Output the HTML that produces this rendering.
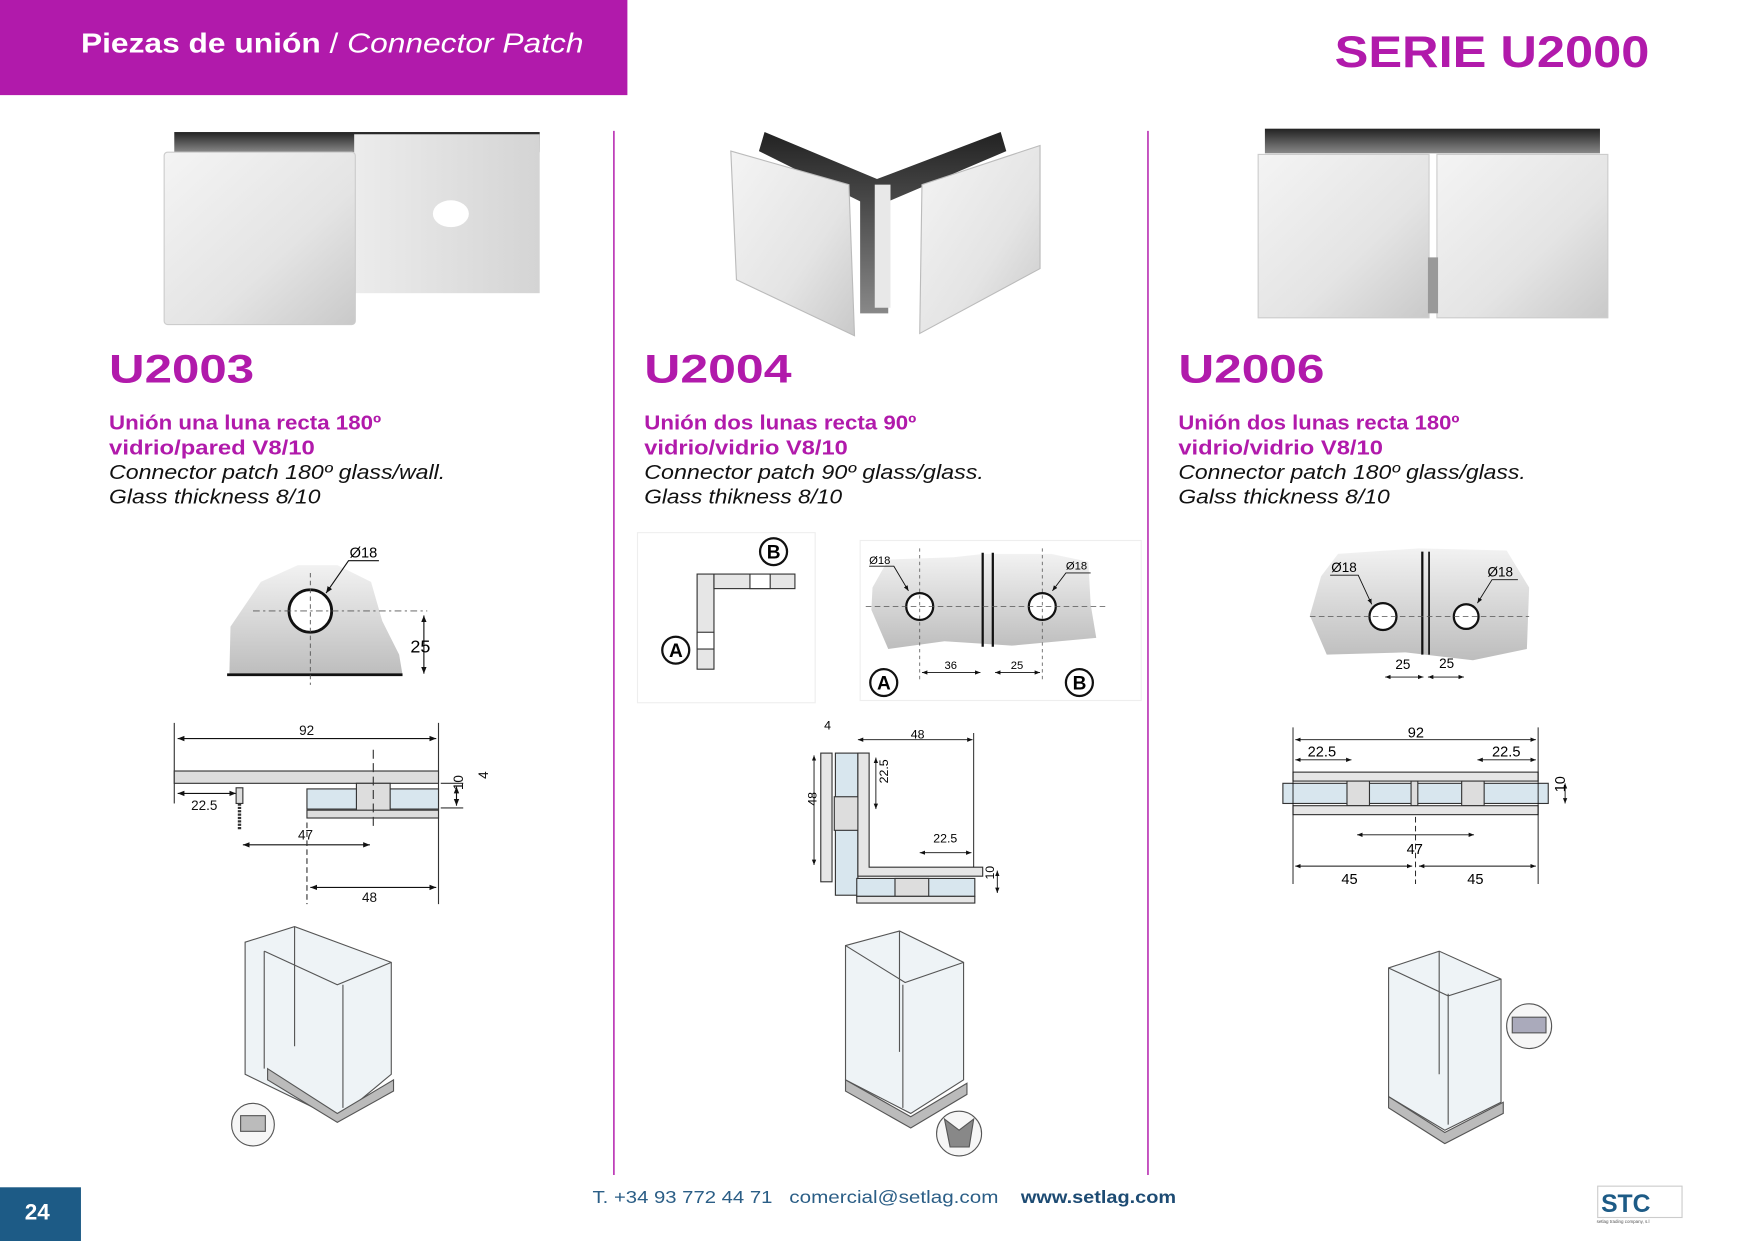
<!DOCTYPE html>
<html><head><meta charset="utf-8">
<style>
html,body{margin:0;padding:0;background:#fff;}
svg{display:block;}
text{font-family:"Liberation Sans",Arial,sans-serif;}
</style></head>
<body>
<svg width="1754" height="1241" viewBox="0 0 1560 1109" preserveAspectRatio="none" xmlns="http://www.w3.org/2000/svg">
<defs>
<linearGradient id="met" x1="0" y1="0" x2="1" y2="1"><stop offset="0" stop-color="#f4f4f4"/><stop offset="0.6" stop-color="#e4e4e4"/><stop offset="1" stop-color="#c9c9c9"/></linearGradient>
<linearGradient id="met2" x1="0" y1="0" x2="1" y2="0"><stop offset="0" stop-color="#ececec"/><stop offset="1" stop-color="#d4d4d4"/></linearGradient>
<linearGradient id="dark" x1="0" y1="0" x2="0" y2="1"><stop offset="0" stop-color="#222"/><stop offset="1" stop-color="#888"/></linearGradient>
<linearGradient id="pl" x1="0" y1="0" x2="0" y2="1"><stop offset="0" stop-color="#f2f2f2"/><stop offset="1" stop-color="#bdbdbd"/></linearGradient>
<marker id="ar" viewBox="0 0 10 10" refX="10" refY="5" markerWidth="6" markerHeight="6" orient="auto-start-reverse"><path d="M0,1 L10,5 L0,9 z" fill="#111"/></marker>
</defs>
<rect width="1560" height="1109" fill="#fff"/>
<!-- header -->
<rect x="0" y="0" width="558" height="85" fill="#b11aab"/>
<text x="72" y="47" font-size="25" fill="#fff" font-weight="bold" textLength="447" lengthAdjust="spacingAndGlyphs">Piezas de unión <tspan font-weight="normal"> / </tspan><tspan font-weight="normal" font-style="italic">Connector Patch</tspan></text>
<text x="1187" y="60" font-size="40" fill="#b11aab" font-weight="bold" textLength="280" lengthAdjust="spacingAndGlyphs">SERIE U2000</text>
<!-- dividers -->
<line x1="546" y1="117" x2="546" y2="1050" stroke="#b11aab" stroke-width="1.3"/>
<line x1="1021" y1="117" x2="1021" y2="1050" stroke="#b11aab" stroke-width="1.3"/>

<!-- photo 1 -->
<rect x="155" y="118" width="325" height="18" fill="url(#dark)"/>
<rect x="315" y="120" width="165" height="142" fill="url(#met2)"/>
<ellipse cx="401" cy="191" rx="16" ry="12" fill="#fff"/>
<rect x="146" y="136" width="170" height="154" rx="3" fill="url(#met)" stroke="#ccc"/>
<!-- photo 2 -->
<path d="M680 118 L780 160 L890 118 L895 135 L790 180 L790 280 L765 280 L765 180 L675 135Z" fill="url(#dark)"/>
<path d="M650 135 L755 165 L760 300 L655 250Z" fill="url(#met)" stroke="#bbb"/>
<path d="M820 165 L925 130 L925 240 L818 298Z" fill="url(#met)" stroke="#bbb"/>
<rect x="778" y="165" width="14" height="110" fill="#e8e8e8"/>
<!-- photo 3 -->
<rect x="1125" y="115" width="298" height="22" fill="url(#dark)"/>
<rect x="1119" y="138" width="152" height="146" fill="url(#met)" stroke="#ccc"/>
<rect x="1278" y="138" width="152" height="146" fill="url(#met)" stroke="#ccc"/>
<rect x="1270" y="230" width="9" height="50" fill="#999"/>

<!-- titles -->
<g fill="#b11aab" font-weight="bold">
<text x="97" y="342" font-size="36" textLength="129" lengthAdjust="spacingAndGlyphs">U2003</text>
<text x="573" y="342" font-size="36" textLength="131" lengthAdjust="spacingAndGlyphs">U2004</text>
<text x="1048" y="342" font-size="36" textLength="130" lengthAdjust="spacingAndGlyphs">U2006</text>
<g font-size="18">
<text x="97" y="384" textLength="242" lengthAdjust="spacingAndGlyphs">Unión una luna recta 180º</text><text x="97" y="406" textLength="183" lengthAdjust="spacingAndGlyphs">vidrio/pared V8/10</text>
<text x="573" y="384" textLength="242" lengthAdjust="spacingAndGlyphs">Unión dos lunas recta 90º</text><text x="573" y="406" textLength="181" lengthAdjust="spacingAndGlyphs">vidrio/vidrio V8/10</text>
<text x="1048" y="384" textLength="250" lengthAdjust="spacingAndGlyphs">Unión dos lunas recta 180º</text><text x="1048" y="406" textLength="182" lengthAdjust="spacingAndGlyphs">vidrio/vidrio V8/10</text>
</g></g>
<g font-size="18" font-style="italic" fill="#111">
<text x="97" y="428" textLength="299" lengthAdjust="spacingAndGlyphs">Connector patch 180º glass/wall.</text><text x="97" y="450" textLength="188" lengthAdjust="spacingAndGlyphs">Glass thickness 8/10</text>
<text x="573" y="428" textLength="302" lengthAdjust="spacingAndGlyphs">Connector patch 90º glass/glass.</text><text x="573" y="450" textLength="176" lengthAdjust="spacingAndGlyphs">Glass thikness 8/10</text>
<text x="1048" y="428" textLength="309" lengthAdjust="spacingAndGlyphs">Connector patch 180º glass/glass.</text><text x="1048" y="450" textLength="188" lengthAdjust="spacingAndGlyphs">Galss thickness 8/10</text>
</g>

<!-- diagram 1 top -->
<path d="M204 603 L205 560 L232 520 L265 505 L300 505 L330 520 L340 555 L355 585 L358 603Z" fill="url(#pl)"/>
<line x1="202" y1="603" x2="358" y2="603" stroke="#111" stroke-width="2.5"/>
<circle cx="276" cy="546" r="19" fill="#fff" stroke="#111" stroke-width="2.5"/>
<line x1="276" y1="512" x2="276" y2="612" stroke="#555" stroke-dasharray="4,3" stroke-width="0.8"/>
<line x1="225" y1="546" x2="380" y2="546" stroke="#555" stroke-dasharray="6,3,2,3" stroke-width="0.8"/>
<path d="M337 501 L310 501 L290 530" stroke="#111" fill="none" stroke-width="1" marker-end="url(#ar)"/>
<text x="311" y="498" font-size="13">Ø18</text>
<line x1="377" y1="550" x2="377" y2="602" stroke="#111" marker-start="url(#ar)" marker-end="url(#ar)"/>
<text x="365" y="583" font-size="16">25</text>
<!-- diagram 1 bottom -->
<g stroke="#333" stroke-width="1" fill="none">
<line x1="155" y1="646" x2="155" y2="718"/><line x1="390" y1="646" x2="390" y2="808"/>
<line x1="158" y1="660" x2="388" y2="660" stroke="#111" marker-start="url(#ar)" marker-end="url(#ar)"/>
<rect x="155" y="689" width="235" height="11" fill="#ddd"/>
<rect x="273" y="705" width="117" height="18" fill="#d8e6ee"/>
<rect x="317" y="700" width="30" height="26" fill="#ddd"/>
<rect x="273" y="724" width="117" height="7" fill="#ddd"/>
<line x1="332" y1="670" x2="332" y2="738" stroke-dasharray="8,4"/>
<line x1="158" y1="709" x2="210" y2="709" stroke="#111" marker-start="url(#ar)" marker-end="url(#ar)"/>
<rect x="210" y="704" width="6" height="14" fill="#ddd"/>
<line x1="213" y1="718" x2="213" y2="742" stroke-dasharray="2,1" stroke-width="3"/>
<line x1="216" y1="755" x2="329" y2="755" stroke="#111" marker-start="url(#ar)" marker-end="url(#ar)"/>
<line x1="273" y1="735" x2="273" y2="808" stroke-dasharray="5,3"/>
<line x1="276" y1="793" x2="388" y2="793" stroke="#111" marker-start="url(#ar)" marker-end="url(#ar)"/>
<line x1="392" y1="700" x2="412" y2="700"/><line x1="392" y1="722" x2="412" y2="722"/>
<line x1="406" y1="703" x2="406" y2="720" stroke="#111" marker-start="url(#ar)" marker-end="url(#ar)"/>
</g>
<g font-size="12" fill="#111"><text x="266" y="657">92</text><text x="170" y="724">22.5</text><text x="265" y="750">47</text><text x="322" y="806">48</text>
<text x="414" y="716" transform="rotate(-90 408 712)">10</text><text x="428" y="698" transform="rotate(-90 430 694)">4</text></g>

<!-- diagram 2 top-left -->
<rect x="567" y="476" width="158" height="152" fill="none" stroke="#eee"/>
<g stroke="#333" fill="#e6e6e6">
<rect x="620" y="513" width="15" height="85"/><rect x="635" y="513" width="72" height="13"/>
<rect x="667" y="513" width="18" height="13" fill="#fff"/><rect x="620" y="565" width="15" height="15" fill="#fff"/>
</g>
<g font-size="17" font-weight="bold"><circle cx="688" cy="493" r="12" fill="#fff" stroke="#111" stroke-width="2"/><text x="682" y="499">B</text>
<circle cx="601" cy="581" r="12" fill="#fff" stroke="#111" stroke-width="2"/><text x="595" y="587">A</text></g>
<!-- diagram 2 top-right -->
<rect x="765" y="483" width="250" height="143" fill="none" stroke="#eee"/>
<path d="M776 525 L790 500 L848 498 L875 495 L935 495 L968 502 L970 540 L975 570 L900 577 L840 573 L790 580 L775 545Z" fill="url(#pl)"/>
<line x1="874" y1="494" x2="874" y2="578" stroke="#111" stroke-width="2"/><line x1="883" y1="494" x2="883" y2="578" stroke="#111" stroke-width="2"/>
<circle cx="818" cy="542" r="12" fill="#fff" stroke="#111" stroke-width="2"/><circle cx="927" cy="542" r="12" fill="#fff" stroke="#111" stroke-width="2"/>
<line x1="770" y1="542" x2="985" y2="542" stroke="#555" stroke-dasharray="5,3" stroke-width="0.7"/>
<line x1="818" y1="490" x2="818" y2="610" stroke="#555" stroke-dasharray="3,3" stroke-width="0.7"/>
<line x1="927" y1="490" x2="927" y2="610" stroke="#555" stroke-dasharray="3,3" stroke-width="0.7"/>
<g stroke="#111" stroke-width="0.8" fill="none"><path d="M773 506 L795 506 L808 528" marker-end="url(#ar)"/><path d="M970 512 L948 512 L936 528" marker-end="url(#ar)"/>
<line x1="820" y1="601" x2="872" y2="601" marker-start="url(#ar)" marker-end="url(#ar)"/><line x1="885" y1="601" x2="925" y2="601" marker-start="url(#ar)" marker-end="url(#ar)"/></g>
<g font-size="10"><text x="773" y="504">Ø18</text><text x="948" y="509">Ø18</text><text x="840" y="598">36</text><text x="899" y="598">25</text></g>
<g font-size="17" font-weight="bold"><circle cx="786" cy="610" r="12" fill="#fff" stroke="#111" stroke-width="2"/><text x="780" y="616">A</text>
<circle cx="960" cy="610" r="12" fill="#fff" stroke="#111" stroke-width="2"/><text x="954" y="616">B</text></g>
<!-- diagram 2 bottom -->
<g stroke="#333" stroke-width="1" fill="#e6e6e6">
<rect x="730" y="673" width="10" height="115"/><rect x="743" y="673" width="20" height="127" fill="#d8e6ee"/>
<rect x="742" y="712" width="22" height="30" fill="#ddd"/>
<path d="M755 673 L765 673 L765 775 L866 775 L866 783 L755 783Z" fill="#e6e6e6" transform="translate(8,0)"/>
<rect x="762" y="785" width="105" height="16" fill="#d8e6ee"/><rect x="796" y="785" width="30" height="16" fill="#ddd"/>
<rect x="762" y="801" width="105" height="6"/>
</g>
<g stroke="#111" stroke-width="0.8" fill="none">
<line x1="763" y1="661" x2="865" y2="661" marker-start="url(#ar)" marker-end="url(#ar)"/><line x1="866" y1="655" x2="866" y2="775"/>
<line x1="724" y1="675" x2="724" y2="773" marker-start="url(#ar)" marker-end="url(#ar)"/>
<line x1="779" y1="677" x2="779" y2="723" marker-start="url(#ar)" marker-end="url(#ar)"/>
<line x1="818" y1="762" x2="864" y2="762" marker-start="url(#ar)" marker-end="url(#ar)"/>
<line x1="887" y1="778" x2="887" y2="798" marker-start="url(#ar)" marker-end="url(#ar)"/>
</g>
<g font-size="11"><text x="733" y="652">4</text><text x="810" y="660">48</text><text x="830" y="753">22.5</text>
<text x="722" y="724" transform="rotate(-90 722 720)">48</text><text x="786" y="704" transform="rotate(-90 786 700)">22.5</text><text x="882" y="792" transform="rotate(-90 880 788)">10</text></g>

<!-- diagram 3 top -->
<path d="M1165 550 L1175 515 L1190 495 L1262 490 L1340 492 L1360 525 L1358 580 L1310 590 L1250 583 L1180 585Z" fill="url(#pl)"/>
<line x1="1265" y1="493" x2="1265" y2="585" stroke="#111" stroke-width="2"/><line x1="1271" y1="493" x2="1271" y2="585" stroke="#111" stroke-width="1.5"/>
<circle cx="1230" cy="551" r="12" fill="#fff" stroke="#111" stroke-width="2"/><circle cx="1304" cy="551" r="11" fill="#fff" stroke="#111" stroke-width="2"/>
<line x1="1165" y1="551" x2="1360" y2="551" stroke="#555" stroke-dasharray="5,3" stroke-width="0.7"/>
<g stroke="#111" stroke-width="0.8" fill="none"><path d="M1183 514 L1208 514 L1220 540" marker-end="url(#ar)"/><path d="M1350 518 L1327 518 L1314 539" marker-end="url(#ar)"/>
<line x1="1232" y1="605" x2="1266" y2="605" marker-start="url(#ar)" marker-end="url(#ar)"/><line x1="1270" y1="605" x2="1302" y2="605" marker-start="url(#ar)" marker-end="url(#ar)"/></g>
<g font-size="12"><text x="1184" y="511">Ø18</text><text x="1323" y="515">Ø18</text><text x="1241" y="598">25</text><text x="1280" y="597">25</text></g>
<!-- diagram 3 bottom -->
<g stroke="#333" stroke-width="1" fill="#e6e6e6">
<rect x="1150" y="690" width="218" height="8"/><rect x="1141" y="700" width="236" height="18" fill="#d8e6ee"/>
<rect x="1198" y="698" width="20" height="22" fill="#ddd"/><rect x="1300" y="698" width="20" height="22" fill="#ddd"/><rect x="1255" y="698" width="6" height="22" fill="#ddd"/>
<rect x="1150" y="720" width="218" height="8"/>
</g>
<g stroke="#111" stroke-width="0.8" fill="none">
<line x1="1150" y1="650" x2="1150" y2="790"/><line x1="1368" y1="650" x2="1368" y2="790"/>
<line x1="1152" y1="661" x2="1366" y2="661" marker-start="url(#ar)" marker-end="url(#ar)"/>
<line x1="1152" y1="679" x2="1202" y2="679" marker-start="url(#ar)" marker-end="url(#ar)"/>
<line x1="1314" y1="679" x2="1366" y2="679" marker-start="url(#ar)" marker-end="url(#ar)"/>
<line x1="1207" y1="746" x2="1311" y2="746" marker-start="url(#ar)" marker-end="url(#ar)"/>
<line x1="1152" y1="774" x2="1256" y2="774" marker-start="url(#ar)" marker-end="url(#ar)"/>
<line x1="1262" y1="774" x2="1366" y2="774" marker-start="url(#ar)" marker-end="url(#ar)"/>
<line x1="1259" y1="730" x2="1259" y2="790" stroke-dasharray="5,3"/>
<line x1="1392" y1="700" x2="1392" y2="718" marker-start="url(#ar)" marker-end="url(#ar)"/>
</g>
<g font-size="13"><text x="1252" y="659">92</text><text x="1163" y="676">22.5</text><text x="1327" y="676">22.5</text><text x="1251" y="763">47</text><text x="1193" y="790">45</text><text x="1305" y="790">45</text>
<text x="1388" y="716" transform="rotate(-90 1386 710)">10</text></g>

<!-- shower illustrations -->
<g stroke="#555" stroke-width="1" fill="none">
<path d="M218 842 L262 828 L348 860 L348 960 L300 1000 L218 960Z" fill="#eef3f6"/>
<path d="M235 850 L235 955 M262 828 L262 935 M305 880 L305 990 M348 860 L300 880 L235 850" />
<path d="M238 955 L300 995 L350 965 L350 975 L300 1003 L238 965Z" fill="#bbb"/>
<circle cx="225" cy="1005" r="19" fill="#f6f6f6"/><rect x="214" y="997" width="22" height="14" fill="#bbb"/>
<path d="M752 845 L800 832 L857 860 L857 965 L810 995 L752 965Z" fill="#eef3f6"/>
<path d="M800 832 L800 940 M803 880 L803 990 M857 860 L805 878 L752 845"/>
<path d="M752 965 L810 998 L860 968 L860 978 L810 1008 L752 975Z" fill="#bbb"/>
<circle cx="853" cy="1013" r="20" fill="#f6f6f6"/><path d="M840 1000 L853 1010 L866 1000 L862 1025 L845 1025Z" fill="#888"/>
<path d="M1235 865 L1280 850 L1335 875 L1335 985 L1285 1010 L1235 980Z" fill="#eef3f6"/>
<path d="M1280 850 L1280 960 M1288 888 L1288 1005 M1335 875 L1288 890 L1235 865"/>
<path d="M1235 980 L1285 1012 L1337 985 L1337 995 L1285 1022 L1235 990Z" fill="#bbb"/>
<circle cx="1360" cy="917" r="20" fill="#f6f6f6"/><rect x="1345" y="909" width="30" height="14" fill="#aab"/>
</g>

<!-- footer -->
<rect x="0" y="1061" width="72" height="48" fill="#1d5b86"/>
<text x="22" y="1090" font-size="20" font-weight="bold" fill="#fff">24</text>
<text x="527" y="1075" font-size="16" fill="#2b5e86" textLength="160" lengthAdjust="spacingAndGlyphs">T. +34 93 772 44 71</text>
<text x="702" y="1075" font-size="16" fill="#2b5e86" textLength="186" lengthAdjust="spacingAndGlyphs">comercial@setlag.com</text>
<text x="908" y="1075" font-size="16" font-weight="bold" fill="#1d4b73" textLength="138" lengthAdjust="spacingAndGlyphs">www.setlag.com</text>
<rect x="1421" y="1060" width="75" height="28" fill="#fff" stroke="#ccc"/>
<text x="1424" y="1083" font-size="22" font-weight="bold" fill="#1d5b86">STC</text>
<text x="1420" y="1093" font-size="4" fill="#555">setlag trading company, s.l</text>
</svg>
</body></html>
